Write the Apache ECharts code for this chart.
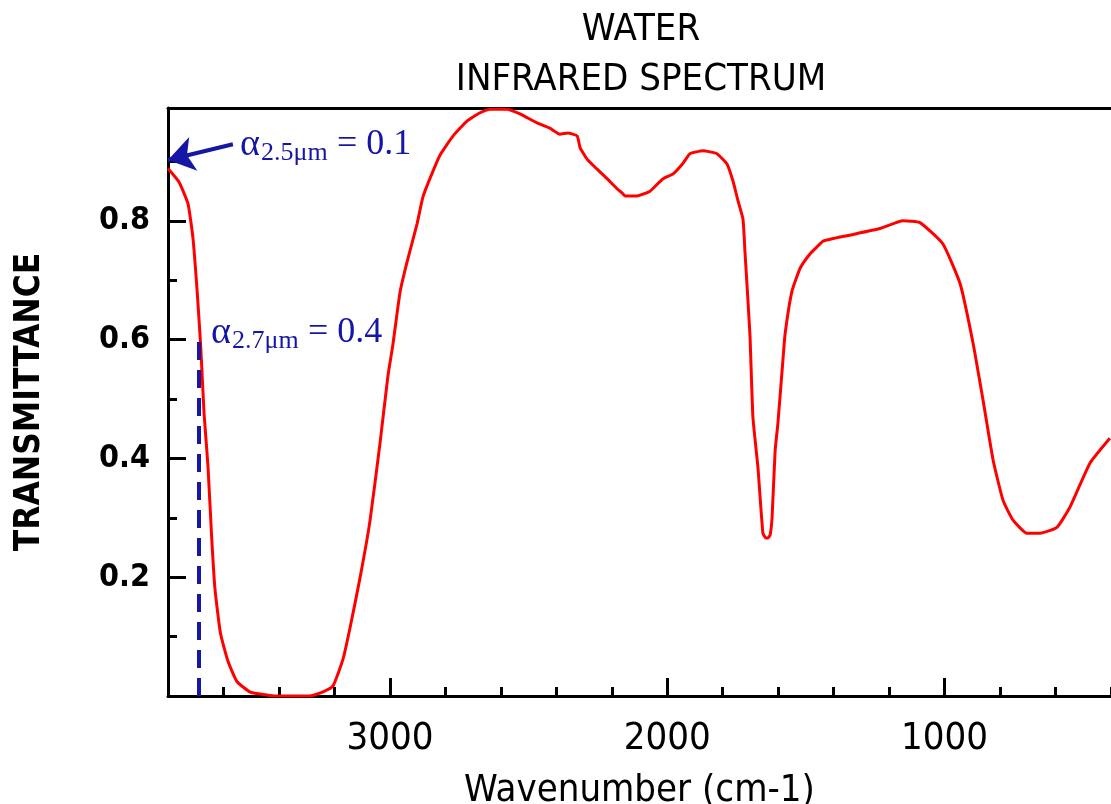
<!DOCTYPE html>
<html>
<head>
<meta charset="utf-8">
<script src="https://cdn.jsdelivr.net/npm/echarts@6/dist/echarts.min.js"></script>
<style>html,body{margin:0;padding:0;background:#fff;}#chart{width:1111px;height:804px;}</style>
</head>
<body>
<div id="chart"></div>
<script>
// Wavenumber (cm-1) samples
const wavenumbers = [3800,3760,3728,3710,3695,3682,3670,3656,3643,3631,
  3611,3584,3551,3501,3447,3414,3288,3241,3205,3169,
  3144,3108,3072,3036,3007,2989,2963,2938,2902,2881,
  2855,2819,2772,2722,2675,2639,2578,2531,2470,2423,
  2387,2358,2325,2314,2289,2253,2217,2181,2163,2152,
  2109,2062,2015,1979,1943,1918,1871,1821,1785,1763,
  1745,1727,1720,1702,1691,1673,1655,1644,1637,1629,
  1622,1611,1601,1583,1575,1550,1520,1484,1456,1438,
  1352,1233,1150,1089,1006,944,897,861,825,789,
  753,703,656,595,548,476,404];
// Transmittance values
const transmittance = [0.888,0.865,0.829,0.771,0.682,0.588,0.476,0.388,0.271,0.182,
  0.106,0.059,0.024,0.006,0.002,0,0,0.007,0.017,0.062,
  0.114,0.198,0.294,0.424,0.539,0.592,0.681,0.731,0.795,0.840,
  0.872,0.911,0.943,0.968,0.982,0.988,0.988,0.980,0.965,0.956,
  0.946,0.948,0.943,0.923,0.904,0.887,0.871,0.854,0.847,0.842,
  0.842,0.850,0.871,0.879,0.897,0.913,0.918,0.913,0.896,0.867,
  0.834,0.803,0.750,0.610,0.469,0.385,0.274,0.266,0.266,0.271,
  0.301,0.413,0.459,0.565,0.610,0.682,0.721,0.745,0.758,0.766,
  0.775,0.787,0.800,0.797,0.761,0.694,0.593,0.497,0.397,0.329,
  0.296,0.274,0.274,0.284,0.318,0.392,0.434];

const xMajorTicks = [1000, 2000, 3000];
const xMinorTicks = [400,600,800,1200,1400,1600,1800,2200,2400,2600,2800,3200,3400,3600];
const yMajorTicks = [0.2, 0.4, 0.6, 0.8];
const yMinorTicks = [0.1, 0.3, 0.5, 0.7, 0.9];

const titleLines = ['WATER', 'INFRARED SPECTRUM'];
const xName = 'Wavenumber (cm-1)';
const yName = 'TRANSMITTANCE';

// annotations (data coordinates)
const dashLine = [[3690, 0], [3690, 0.6]];
const arrowLine = [[3566, 0.929], [3800, 0.9025]];

const BLUE = '#1616a6';
const SANS = '"DejaVu Sans Condensed", "DejaVu Sans", sans-serif';
const SERIF = '"Liberation Serif", "DejaVu Serif", serif';

const chart = echarts.init(document.getElementById('chart'), null, {renderer: 'canvas'});

const xBase = {type: 'value', min: 400, max: 3800, inverse: true, splitLine: {show: false}};
const yBase = {type: 'value', min: 0, max: 0.99, splitLine: {show: false}};

const option = {
  animation: false,
  backgroundColor: '#fff',
  grid: {left: 168, right: 0, top: 108, bottom: 108, containLabel: false, outerBoundsMode: 'none'},
  xAxis: [
    Object.assign({}, xBase, {
      position: 'bottom',
      axisLine: {show: true, onZero: false, lineStyle: {color: '#000', width: 3}},
      axisTick: {show: true, inside: true, length: 18, lineStyle: {color: '#000', width: 3}, customValues: xMajorTicks},
      axisLabel: {show: true, customValues: xMajorTicks, formatter: v => String(v), margin: 24,
        fontFamily: SANS, fontSize: 38, color: '#000'},
      name: xName, nameLocation: 'middle', nameGap: 76,
      nameTextStyle: {fontFamily: SANS, fontSize: 38, color: '#000'}
    }),
    Object.assign({}, xBase, {
      position: 'bottom',
      axisLine: {show: false},
      axisTick: {show: true, inside: true, length: 9, lineStyle: {color: '#000', width: 3}, customValues: xMinorTicks},
      axisLabel: {show: false}
    }),
    Object.assign({}, xBase, {
      position: 'top',
      axisLine: {show: true, onZero: false, lineStyle: {color: '#000', width: 3}},
      axisTick: {show: false},
      axisLabel: {show: false}
    })
  ],
  yAxis: [
    Object.assign({}, yBase, {
      position: 'left',
      axisLine: {show: true, onZero: false, lineStyle: {color: '#000', width: 3}},
      axisTick: {show: true, inside: true, length: 18, lineStyle: {color: '#000', width: 3}, customValues: yMajorTicks},
      axisLabel: {show: true, customValues: yMajorTicks, formatter: v => v.toFixed(1), margin: 18,
        fontFamily: SANS, fontSize: 32, fontWeight: 'bold', color: '#000'},
      name: yName, nameLocation: 'middle', nameGap: 121, nameRotate: 90,
      nameTextStyle: {fontFamily: SANS, fontSize: 35, fontWeight: 'bold', color: '#000'}
    }),
    Object.assign({}, yBase, {
      position: 'left',
      axisLine: {show: false},
      axisTick: {show: true, inside: true, length: 9, lineStyle: {color: '#000', width: 3}, customValues: yMinorTicks},
      axisLabel: {show: false}
    })
  ],
  series: [{
    type: 'line',
    xAxisIndex: 0, yAxisIndex: 0,
    data: wavenumbers.map((w, i) => [w, transmittance[i]]),
    showSymbol: false,
    smooth: 0.15,
    clip: true,
    lineStyle: {color: '#ff0000', width: 3},
    itemStyle: {color: '#ff0000'},
    z: 3,
    markLine: {
      silent: true,
      animation: false,
      label: {show: false},
      symbol: ['none', 'none'],
      data: [
        [
          {coord: dashLine[0], symbol: 'none', lineStyle: {color: BLUE, width: 4, type: [18, 10]}},
          {coord: dashLine[1], symbol: 'none'}
        ],
        [
          {coord: arrowLine[0], symbol: 'none', lineStyle: {color: BLUE, width: 4, type: 'solid'}},
          {coord: arrowLine[1], symbol: 'arrow', symbolSize: 26}
        ]
      ]
    }
  }],
  graphic: [
    {type: 'text', x: 641, y: 30, style: {text: titleLines[0], font: '38px ' + SANS, fill: '#000', textAlign: 'center', textVerticalAlign: 'middle'}},
    {type: 'text', x: 641, y: 80, style: {text: titleLines[1], font: '38px ' + SANS, fill: '#000', textAlign: 'center', textVerticalAlign: 'middle'}},
    {type: 'text', x: 240, y: 145, style: {text: 'α', font: '38px ' + SERIF, fill: BLUE, textAlign: 'left', textVerticalAlign: 'middle'}},
    {type: 'text', x: 261, y: 153, style: {text: '2.5μm', font: '26px ' + SERIF, fill: BLUE, textAlign: 'left', textVerticalAlign: 'middle'}},
    {type: 'text', x: 337, y: 145, style: {text: '= 0.1', font: '36px ' + SERIF, fill: BLUE, textAlign: 'left', textVerticalAlign: 'middle'}},
    {type: 'text', x: 211, y: 333, style: {text: 'α', font: '38px ' + SERIF, fill: BLUE, textAlign: 'left', textVerticalAlign: 'middle'}},
    {type: 'text', x: 232, y: 341, style: {text: '2.7μm', font: '26px ' + SERIF, fill: BLUE, textAlign: 'left', textVerticalAlign: 'middle'}},
    {type: 'text', x: 308, y: 333, style: {text: '= 0.4', font: '36px ' + SERIF, fill: BLUE, textAlign: 'left', textVerticalAlign: 'middle'}}
  ]
};
chart.setOption(option);
</script>
</body>
</html>
